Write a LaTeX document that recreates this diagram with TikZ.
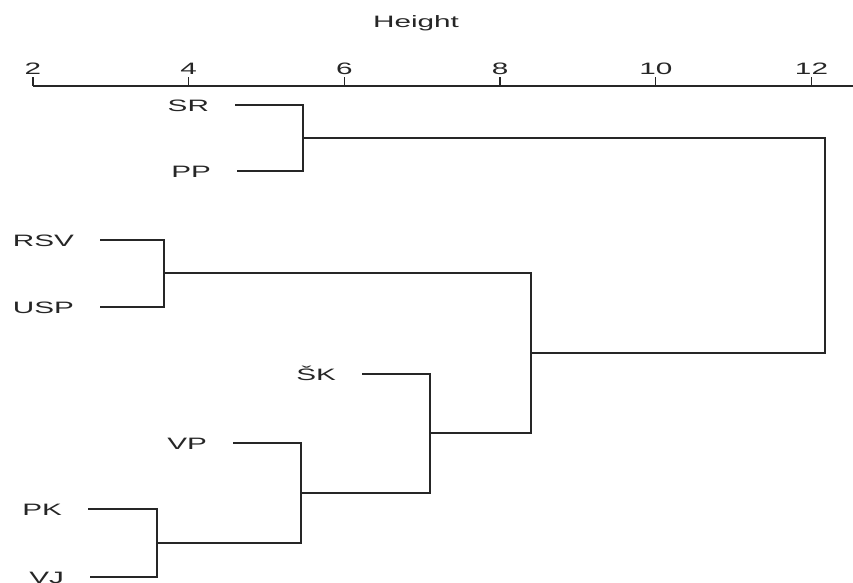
\documentclass[tikz,border=0pt]{standalone}
\usepackage{fontspec}
\newfontfamily\dendfont[FakeStretch=1.8]{Liberation Sans}
\begin{document}
\begin{tikzpicture}[x=1pt,y=-1pt,
  every node/.style={inner sep=0pt, outer sep=0pt, text=black!85,
                     font=\dendfont\fontsize{16.5}{18}\selectfont},
  branch/.style={draw=black!85, line width=1.3pt, line join=miter},
  leaflabel/.style={anchor=base east, xshift=-26pt},
  ticklabel/.style={anchor=base}]
\useasboundingbox (0,0) rectangle (853,582);

% Height axis: x(h) = 33 + 77.85 (h - 2)
\coordinate (axL) at (33,86);
\coordinate (axR) at (853,86);
\draw[branch] (axL) -- (axR);
\foreach \h [count=\i from 0] in {2,4,6,8,10,12}{
  \coordinate (tk\i) at ({33+77.85*(\h-2)},86);
  \draw[branch] (tk\i) -- ++(0,-9);
  \node[ticklabel] (tl\i) at ([yshift=12]tk\i) {\h};
}
\node[anchor=base] (title) at (416,27) {Height};

% leaf ends of the branches
\coordinate (sr)  at (235,105);
\coordinate (pp)  at (237,171);
\coordinate (rsv) at (100,240);
\coordinate (usp) at (100,307);
\coordinate (sk)  at (362,374);
\coordinate (vp)  at (233,443);
\coordinate (pk)  at (88,509);
\coordinate (vj)  at (90,577);

% leaf labels
\node[leaflabel] (lsr)  at ([yshift=-6]sr)  {SR};
\node[leaflabel] (lpp)  at ([yshift=-6]pp)  {PP};
\node[leaflabel] (lrsv) at ([yshift=-6]rsv) {RSV};
\node[leaflabel] (lusp) at ([yshift=-6]usp) {USP};
\node[leaflabel] (lsk)  at ([yshift=-6]sk)  {ŠK};
\node[leaflabel] (lvp)  at ([yshift=-6]vp)  {VP};
\node[leaflabel] (lpk)  at ([yshift=-6]pk)  {PK};
\node[leaflabel] (lvj)  at ([yshift=-6]vj)  {VJ};

% merge points (x = merge height, y = middle of the joined branches)
\coordinate (m1) at (303,138);
\coordinate (m2) at (164,273);
\coordinate (m3) at (157,543);
\coordinate (m4) at (301,493);
\coordinate (m5) at (430,433);
\coordinate (m6) at (531,353);
\coordinate (m7) at (825,245);

% branches
\draw[branch] (sr)  -| (m1) |- (pp);
\draw[branch] (rsv) -| (m2) |- (usp);
\draw[branch] (pk)  -| (m3) |- (vj);
\draw[branch] (vp)  -| (m4) |- (m3);
\draw[branch] (sk)  -| (m5) |- (m4);
\draw[branch] (m2)  -| (m6) |- (m5);
\draw[branch] (m1)  -| (m7) |- (m6);
\end{tikzpicture}
\end{document}
